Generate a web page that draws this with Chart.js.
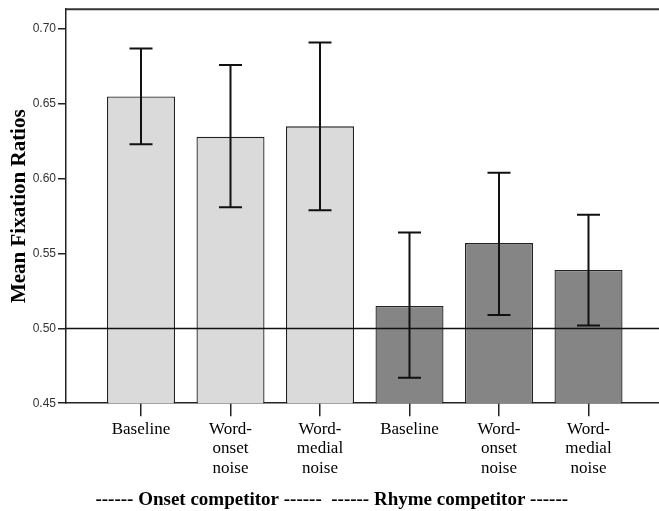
<!DOCTYPE html>
<html>
<head>
<meta charset="utf-8">
<script src="https://cdn.jsdelivr.net/npm/chart.js@4.4.1/dist/chart.umd.min.js"></script>
<style>
    html, body { margin: 0; padding: 0; background: #fff; overflow: hidden; }
    canvas { display: block; }
</style>
</head>
<body>
<canvas id="fixationChart" width="665" height="511"></canvas>
<script>
// kategori di sumbu x
const xLabels = [['Baseline'], ['Word-', 'onset', 'noise'], ['Word-', 'medial', 'noise'],
                 ['Baseline'], ['Word-', 'onset', 'noise'], ['Word-', 'medial', 'noise']];
const yTicks = [0.45, 0.50, 0.55, 0.60, 0.65, 0.70];

// nilai rata-rata dan batas error bar
const onsetMeans = [0.655, 0.628, 0.635];
const onsetHigh = [0.687, 0.676, 0.691];
const onsetLow = [0.623, 0.581, 0.579];
const rhymeMeans = [0.515, 0.557, 0.539];
const rhymeHigh = [0.564, 0.604, 0.576];
const rhymeLow = [0.467, 0.509, 0.502];

const refValue = 0.50;

const errorBars = {
    id: 'errorBars',
    afterDatasetsDraw(chart) {
        const ctx = chart.ctx;
        const x = chart.scales.x, y = chart.scales.y;
        const area = chart.chartArea;

        // garis referensi 0.50
        ctx.save();
        ctx.strokeStyle = '#111';
        ctx.lineWidth = 1.5;
        ctx.beginPath();
        ctx.moveTo(area.left, y.getPixelForValue(refValue));
        ctx.lineTo(area.right, y.getPixelForValue(refValue));
        ctx.stroke();

        // garis atas bingkai
        ctx.strokeStyle = '#333';
        ctx.lineWidth = 2;
        ctx.beginPath();
        ctx.moveTo(area.left, area.top);
        ctx.lineTo(area.right + 2, area.top);
        ctx.stroke();

        const lows = onsetLow.concat(rhymeLow);
        const highs = onsetHigh.concat(rhymeHigh);
        ctx.strokeStyle = '#111';
        ctx.lineWidth = 2;
        for (let i = 0; i < lows.length; i++) {
            const px = x.getPixelForValue(i);
            const top = y.getPixelForValue(highs[i]);
            const bot = y.getPixelForValue(lows[i]);
            ctx.beginPath();
            ctx.moveTo(px, top);
            ctx.lineTo(px, bot);
            ctx.moveTo(px - 11.5, top);
            ctx.lineTo(px + 11.5, top);
            ctx.moveTo(px - 11.5, bot);
            ctx.lineTo(px + 11.5, bot);
            ctx.stroke();
        }
        ctx.restore();
    }
};

const ctx = document.getElementById('fixationChart').getContext('2d');
new Chart(ctx, {
    type: 'bar',
    data: {
        datasets: [{
            label: 'Onset competitor',
            data: onsetMeans.map((v, i) => ({ x: i, y: v })),
            backgroundColor: '#dadada',
            borderColor: '#222',
            borderWidth: 1.3
        }, {
            label: 'Rhyme competitor',
            data: rhymeMeans.map((v, i) => ({ x: i + 3, y: v })),
            backgroundColor: '#858585',
            borderColor: '#222',
            borderWidth: 1.3
        }]
    },
    options: {
        responsive: false,
        animation: false,
        layout: { padding: { top: 8, right: 1.5, left: 0, bottom: 0 } },
        datasets: {
            bar: { grouped: false, barPercentage: 0.76, categoryPercentage: 1 }
        },
        scales: {
            x: {
                type: 'linear',
                offset: false,
                min: -0.838,
                max: 5.838,
                afterBuildTicks: (scale) => { scale.ticks = xLabels.map((l, i) => ({ value: i })); },
                afterFit: (scale) => { scale.height = 75; },
                grid: { display: true, offset: false, drawOnChartArea: false, drawTicks: true, tickLength: 13, color: '#222', lineWidth: 1.5 },
                border: { display: true, color: '#222', width: 1.5 },
                ticks: {
                    autoSkip: false,
                    maxRotation: 0,
                    padding: 4,
                    color: '#000',
                    font: { family: '"Liberation Serif", serif', size: 17, lineHeight: 1.13 },
                    callback: (value) => xLabels[value]
                }
            },
            y: {
                min: 0.45,
                max: 0.7133,
                afterBuildTicks: (scale) => { scale.ticks = yTicks.map(v => ({ value: v })); },
                afterFit: (scale) => { scale.width = 66; },
                grid: { display: true, drawOnChartArea: false, drawTicks: true, tickLength: 8, color: '#222', lineWidth: 1.5 },
                border: { display: true, color: '#222', width: 1.5 },
                ticks: {
                    padding: 2,
                    color: '#333',
                    font: { family: '"Liberation Sans", Arial, sans-serif', size: 12 },
                    callback: (value) => value.toFixed(2)
                },
                title: {
                    display: true,
                    text: 'Mean Fixation Ratios',
                    color: '#000',
                    padding: { top: 7, bottom: 0 },
                    font: { family: '"Liberation Serif", serif', size: 21, weight: 'bold' }
                }
            }
        },
        plugins: {
            legend: { display: false },
            tooltip: { enabled: false },
            title: {
                display: true,
                position: 'bottom',
                text: '------ Onset competitor ------  ------ Rhyme competitor ------',
                color: '#000',
                padding: { top: 10, bottom: 0 },
                font: { family: '"Liberation Serif", serif', size: 19, weight: 'bold' }
            }
        }
    },
    plugins: [errorBars]
});
</script>
</body>
</html>
